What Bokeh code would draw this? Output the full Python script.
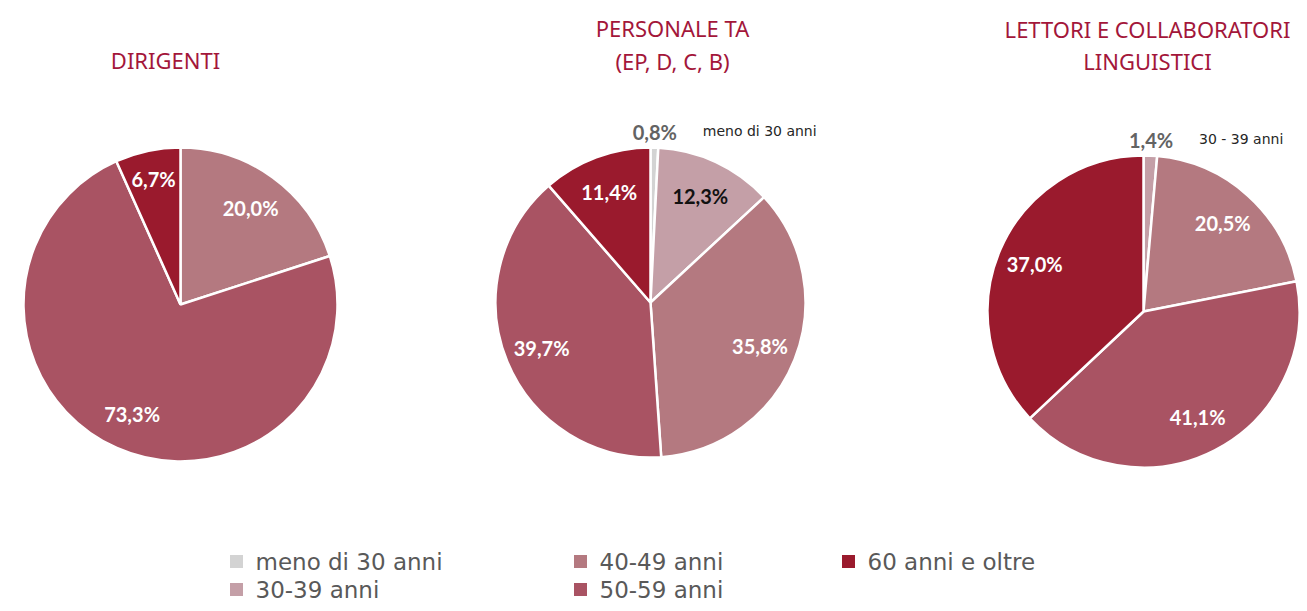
import math
from bokeh.plotting import figure
from bokeh.models import Range1d, ColumnDataSource
from bokeh.core.properties import value
from bokeh.embed import file_html
from bokeh.resources import INLINE

# ---------------- data ----------------
categories = ["meno di 30 anni", "30-39 anni", "40-49 anni", "50-59 anni", "60 anni e oltre"]
colors = ["#D3D3D3", "#C49FA7", "#B47980", "#A95363", "#9A1A2D"]

titles = [["DIRIGENTI"], ["PERSONALE TA", "(EP, D, C, B)"], ["LETTORI E COLLABORATORI", "LINGUISTICI"]]
dirigenti = [0.0, 0.0, 20.0, 73.3, 6.7]
personale_ta = [0.8, 12.3, 35.8, 39.7, 11.4]
lettori = [0.0, 1.4, 20.5, 41.1, 37.0]
small_slice_names = ["meno di 30 anni", "30 - 39 anni"]
series = [dirigenti, personale_ta, lettori]

# ---------------- layout (pixel space, y up) ----------------
W, H = 1299, 603
def Y(sy):  # screen y -> data y
    return H - sy

p = figure(width=W, height=H, output_backend="svg", toolbar_location=None,
           x_range=Range1d(0, W), y_range=Range1d(0, H),
           min_border=0, outline_line_color=None)
p.axis.visible = False
p.grid.visible = False

centers = [(180, 304), (650, 302), (1143, 311)]
radii = [157, 155, 156]
title_pos = [(165, [59]), (672, [27, 60]), (1147, [28, 60])]

FONT_LBL = "Lato"
FONT_TITLE = "Noto Sans"

for k, vals in enumerate(series):
    cx, cy = centers[k]
    R = radii[k]
    total = sum(vals)
    cum = 0.0
    xs, ys, starts, ends, cols = [], [], [], [], []
    labels = []
    for i, v in enumerate(vals):
        if v <= 0:
            continue
        f0 = cum / total
        f1 = (cum + v) / total
        cum += v
        xs.append(cx); ys.append(Y(cy))
        starts.append(math.pi / 2 - 2 * math.pi * f1)
        ends.append(math.pi / 2 - 2 * math.pi * f0)
        cols.append(colors[i])
        labels.append((i, v, (f0 + f1) / 2))
    src = ColumnDataSource(dict(x=xs, y=ys, s=starts, e=ends, c=cols))
    p.wedge(x="x", y="y", radius=R, start_angle="s", end_angle="e", direction="anticlock",
            fill_color="c", line_color="white", line_width=2.5, source=src)
    for i, v, mid in labels:
        ang = math.pi / 2 - 2 * math.pi * mid
        lbl = ("%.1f%%" % v).replace(".", ",")
        if v < 5:
            r = 1.10 * R
            lx = cx + r * math.cos(ang)
            ly = Y(cy) + r * math.sin(ang)
            p.text(x=[lx], y=[ly], text=[lbl], text_align="center", text_baseline="middle",
                   text_font=value(FONT_LBL), text_font_style="bold", text_font_size="20px",
                   text_color="#636363")
            p.text(x=[lx + 48], y=[ly + 1], text=[small_slice_names[i]], text_align="left",
                   text_baseline="middle", text_font=value("DejaVu Sans"), text_font_size="14px",
                   text_color="#262626")
        else:
            r = (0.82 if v < 8 else 0.76) * R
            lx = cx + r * math.cos(ang)
            ly = Y(cy) + r * math.sin(ang)
            tc = "#111111" if i == 1 else "white"
            p.text(x=[lx], y=[ly], text=[lbl], text_align="center", text_baseline="middle",
                   text_font=value(FONT_LBL), text_font_style="bold", text_font_size="20px",
                   text_color=tc)
    tx, tys = title_pos[k]
    for line, ty in zip(titles[k], tys):
        p.text(x=[tx], y=[Y(ty)], text=[line], text_align="center", text_baseline="middle",
               text_font=value(FONT_TITLE), text_font_size="22px", text_color="#A3163A")

# ---------------- legend ----------------
leg_x = [236, 236, 580, 580, 848]
leg_y = [561, 589, 561, 589, 561]
p.rect(x=leg_x, y=[Y(v) for v in leg_y], width=13, height=13, fill_color=colors,
       line_color=None)
p.text(x=[v + 19 for v in leg_x], y=[Y(v) for v in leg_y], text=categories,
       text_align="left", text_baseline="middle", text_font=value("DejaVu Sans"),
       text_font_size="23px", text_color="#595959")

open("out.html", "w").write(file_html(p, INLINE))
